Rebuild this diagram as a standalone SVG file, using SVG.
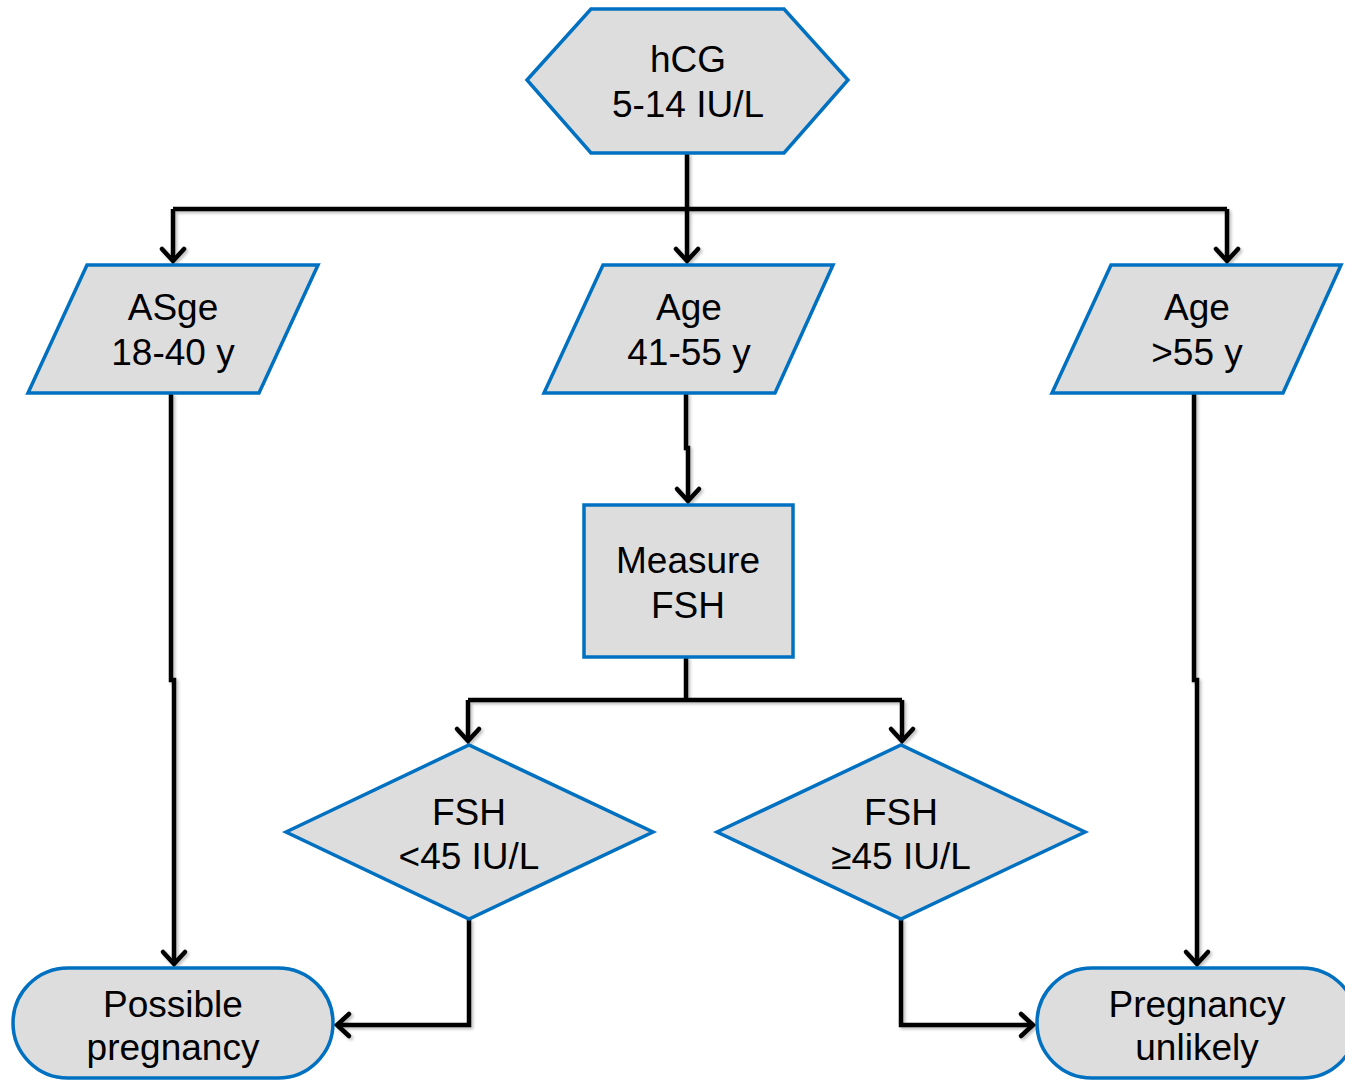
<svg xmlns="http://www.w3.org/2000/svg" width="1345" height="1081" viewBox="0 0 1345 1081">
<style>
.node{fill:#DDDDDD;stroke:#0070C0;stroke-width:3.5;stroke-linejoin:miter}
.lbl{font-family:"Liberation Sans",Arial,sans-serif;font-size:37px;fill:#000;text-anchor:middle}
.con{fill:none;stroke:#000;stroke-width:4.5;stroke-linejoin:miter}
</style>
<defs>
<marker id="arr" markerUnits="userSpaceOnUse" viewBox="-16 -16 20 32" refX="0" refY="0" markerWidth="20" markerHeight="32" orient="auto" overflow="visible">
<path d="M-12,-11 L0,0 L-12,11" fill="none" stroke="#000" stroke-width="4.5" stroke-linecap="round" stroke-linejoin="miter"/>
</marker>
<filter id="sh" x="-10%" y="-10%" width="120%" height="120%">
<feDropShadow dx="2" dy="2" stdDeviation="1.5" flood-color="#000" flood-opacity="0.25"/>
</filter>
</defs>
<rect width="1345" height="1081" fill="#fff"/>
<g id="connectors" filter="url(#sh)">
<path class="con" d="M687,153 V209" stroke-width="6"/>
<path class="con" d="M173,209 H1227"/>
<path class="con" d="M173,209 V261" marker-end="url(#arr)"/>
<path class="con" d="M687,209 V261" marker-end="url(#arr)"/>
<path class="con" d="M1227,209 V261" marker-end="url(#arr)"/>
<path class="con" d="M171,393 V680 H174 V964" marker-end="url(#arr)"/>
<path class="con" d="M686,393 V448 H688 V501" marker-end="url(#arr)"/>
<path class="con" d="M1194,393 V680 H1197 V964" marker-end="url(#arr)"/>
<path class="con" d="M686,657 V700"/>
<path class="con" d="M468,700 H902"/>
<path class="con" d="M468,700 V741" marker-end="url(#arr)"/>
<path class="con" d="M902,700 V741" marker-end="url(#arr)"/>
<path class="con" d="M469,919 V1025 H337" marker-end="url(#arr)"/>
<path class="con" d="M901,919 V1025 H1033" marker-end="url(#arr)"/>
</g>
<g id="hcg">
<polygon class="node" points="527,80 591,9 784,9 848,80 784,153 591,153"/>
<text class="lbl" x="688" y="72">hCG</text>
<text class="lbl" x="688" y="117">5-14 IU/L</text>
</g>
<g id="age1">
<polygon class="node" points="87,265 318,265 259,393 28,393"/>
<text class="lbl" x="173" y="320">ASge</text>
<text class="lbl" x="173" y="365">18-40 y</text>
</g>
<g id="age2">
<polygon class="node" points="603,265 833,265 775,393 544,393"/>
<text class="lbl" x="689" y="320">Age</text>
<text class="lbl" x="689" y="365">41-55 y</text>
</g>
<g id="age3">
<polygon class="node" points="1111,265 1341,265 1283,393 1052,393"/>
<text class="lbl" x="1197" y="320">Age</text>
<text class="lbl" x="1197" y="365">&gt;55 y</text>
</g>
<g id="measure">
<rect class="node" x="584" y="505" width="209" height="152"/>
<text class="lbl" x="688" y="573">Measure</text>
<text class="lbl" x="688" y="618">FSH</text>
</g>
<g id="fshlow">
<polygon class="node" points="286,832 469,745 653,832 469,919"/>
<text class="lbl" x="469" y="825">FSH</text>
<text class="lbl" x="469" y="869">&lt;45 IU/L</text>
</g>
<g id="fshhigh">
<polygon class="node" points="717,832 901,745 1085,832 901,919"/>
<text class="lbl" x="901" y="825">FSH</text>
<text class="lbl" x="901" y="869">≥45 IU/L</text>
</g>
<g id="possible">
<rect class="node" x="13" y="968" width="320" height="110" rx="55" ry="55"/>
<text class="lbl" x="173" y="1017">Possible</text>
<text class="lbl" x="173" y="1060">pregnancy</text>
</g>
<g id="unlikely">
<rect class="node" x="1037" y="968" width="320" height="110" rx="55" ry="55"/>
<text class="lbl" x="1197" y="1017">Pregnancy</text>
<text class="lbl" x="1197" y="1060">unlikely</text>
</g>
</svg>
